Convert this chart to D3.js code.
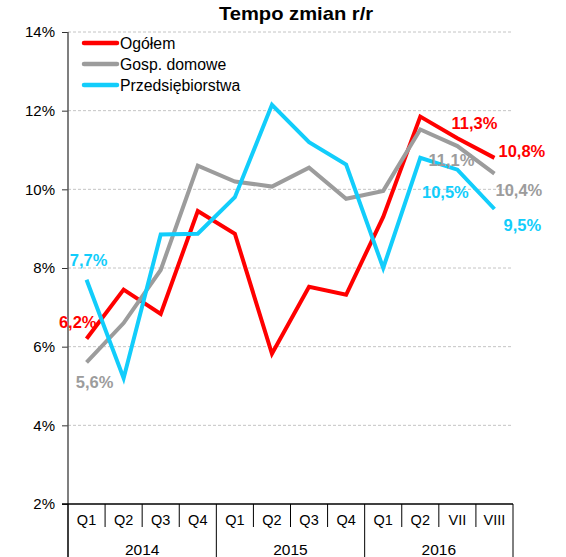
<!DOCTYPE html>
<html>
<head>
<meta charset="utf-8">
<script src="https://cdn.jsdelivr.net/npm/d3@7"></script>
<style>
  body { margin: 0; background: #fff; }
  text { font-family: "Liberation Sans", Arial, sans-serif; }
</style>
</head>
<body>
<div id="chart"></div>
<script>
// dane
const kategorie = ["Q1","Q2","Q3","Q4","Q1","Q2","Q3","Q4","Q1","Q2","VII","VIII"];
const lata = ["2014","2015","2016"];
const lataStart = [0, 4, 8];   // indeks pierwszej kategorii danego roku
const ogolem = [6.2, 7.45, 6.83, 9.45, 8.87, 5.82, 7.52, 7.32, 9.3, 11.85, 11.3, 10.8];
const gospDomowe = [5.6, 6.6, 7.95, 10.6, 10.2, 10.07, 10.55, 9.76, 9.96, 11.52, 11.1, 10.4];
const przedsiebiorstwa = [7.7, 5.2, 8.85, 8.87, 9.8, 12.15, 11.2, 10.63, 8.0, 10.8, 10.5, 9.5];
const yTicks = [2, 4, 6, 8, 10, 12, 14];

const serie = [
  {name: "Ogółem", values: ogolem, color: "#ff0000"},
  {name: "Gosp. domowe", values: gospDomowe, color: "#9c9c9c"},
  {name: "Przedsiębiorstwa", values: przedsiebiorstwa, color: "#12cdfb"}
];

// etykiety wartosci: seria, indeks, przesuniecie
const etykiety = [
  {s: 0, i: 0, dx: 10, dy: -17, anchor: "end"},
  {s: 2, i: 0, dx: 2, dy: -20, anchor: "middle"},
  {s: 1, i: 0, dx: 8, dy: 20, anchor: "middle"},
  {s: 0, i: 10, dx: 17, dy: -15, anchor: "middle"},
  {s: 0, i: 11, dx: 4, dy: -7, anchor: "start"},
  {s: 1, i: 10, dx: -6, dy: 14, anchor: "middle"},
  {s: 2, i: 10, dx: -12, dy: 22, anchor: "middle"},
  {s: 1, i: 11, dx: 1, dy: 16, anchor: "start"},
  {s: 2, i: 11, dx: 9, dy: 16, anchor: "start"}
];

const width = 566, height = 557;
const mLeft = 68, mRight = 513, mTop = 32, mBottom = 504;

const svg = d3.select("#chart").append("svg")
  .attr("width", width)
  .attr("height", height);

const x = d3.scaleBand()
  .domain(d3.range(kategorie.length))
  .range([mLeft, mRight])
  .padding(0);

const y = d3.scaleLinear()
  .domain([2, 14])
  .range([mBottom, mTop]);

const cx = i => x(i) + x.bandwidth() / 2;

// siatka
svg.append("g")
  .selectAll("line")
  .data(yTicks.filter(d => d > 2))
  .enter().append("line")
  .attr("x1", mLeft).attr("x2", mRight)
  .attr("y1", d => y(d)).attr("y2", d => y(d))
  .style("stroke", "#c4c4c4")
  .style("stroke-dasharray", "3,2")
  .style("stroke-width", 1);

// os Y
const yAxis = svg.append("g")
  .attr("transform", "translate(" + mLeft + ",0)")
  .call(d3.axisLeft(y).tickValues(yTicks).tickFormat(d => d + "%").tickSize(6).tickSizeOuter(0));
yAxis.select(".domain").remove();
yAxis.selectAll(".tick line").style("stroke", "#333");
yAxis.selectAll(".tick text")
  .attr("x", -13)
  .style("font-size", "15px")
  .style("fill", "#000")
  .style("font-family", "'Liberation Sans', Arial, sans-serif");

svg.append("line")
  .attr("x1", mLeft).attr("x2", mLeft)
  .attr("y1", mTop).attr("y2", height)
  .style("stroke", "#555")
  .style("stroke-width", 1.5);

// os X
svg.append("line")
  .attr("x1", mLeft - 6).attr("x2", mRight)
  .attr("y1", mBottom).attr("y2", mBottom)
  .style("stroke", "#000")
  .style("stroke-width", 1.3);

const granice = d3.range(kategorie.length + 1);
svg.append("g")
  .selectAll("line")
  .data(granice)
  .enter().append("line")
  .attr("x1", d => d < kategorie.length ? x(d) : mRight)
  .attr("x2", d => d < kategorie.length ? x(d) : mRight)
  .attr("y1", mBottom)
  .attr("y2", d => (lataStart.includes(d) || d === kategorie.length) ? height : mBottom + 23)
  .style("stroke", "#000")
  .style("stroke-width", 1);

svg.append("g")
  .selectAll("text")
  .data(kategorie)
  .enter().append("text")
  .attr("x", (d, i) => cx(i))
  .attr("y", mBottom + 21)
  .attr("text-anchor", "middle")
  .style("font-size", "14.5px")
  .text(d => d);

svg.append("g")
  .selectAll("text")
  .data(lata)
  .enter().append("text")
  .attr("x", (d, i) => {
    const a = lataStart[i];
    const b = i + 1 < lataStart.length ? lataStart[i + 1] : kategorie.length;
    const xa = x(a);
    const xb = b < kategorie.length ? x(b) : mRight;
    return (xa + xb) / 2;
  })
  .attr("y", mBottom + 51)
  .attr("text-anchor", "middle")
  .style("font-size", "15.5px")
  .text(d => d);

// linie
const line = d3.line()
  .x((d, i) => cx(i))
  .y(d => y(d));

svg.append("g")
  .selectAll("path")
  .data(serie)
  .enter().append("path")
  .attr("d", d => line(d.values))
  .style("fill", "none")
  .style("stroke", d => d.color)
  .style("stroke-width", 4)
  .style("stroke-linejoin", "miter");

// etykiety wartosci
svg.append("g")
  .selectAll("text")
  .data(etykiety)
  .enter().append("text")
  .attr("x", d => cx(d.i) + d.dx)
  .attr("y", d => y(serie[d.s].values[d.i]) + d.dy)
  .attr("dy", "0.36em")
  .attr("text-anchor", d => d.anchor)
  .style("font-size", "16.5px")
  .style("font-weight", "bold")
  .style("fill", d => serie[d.s].color)
  .text(d => String(serie[d.s].values[d.i].toFixed(1)).replace(".", ",") + "%");

// legenda
const leg = svg.append("g")
  .selectAll("g")
  .data(serie)
  .enter().append("g")
  .attr("transform", (d, i) => "translate(84," + (43 + i * 21) + ")");
leg.append("line")
  .attr("x1", 0).attr("x2", 33)
  .style("stroke", d => d.color)
  .style("stroke-width", 4.5)
  .style("stroke-linecap", "round");
leg.append("text")
  .attr("x", 36)
  .attr("dy", "0.36em")
  .style("font-size", "15.8px")
  .text(d => d.name);

// tytul
svg.append("g")
  .attr("transform", "translate(296,20) scale(1.12,1)")
  .append("text")
  .attr("text-anchor", "middle")
  .style("font-size", "18px")
  .style("font-weight", "bold")
  .text("Tempo zmian r/r");
</script>
</body>
</html>
